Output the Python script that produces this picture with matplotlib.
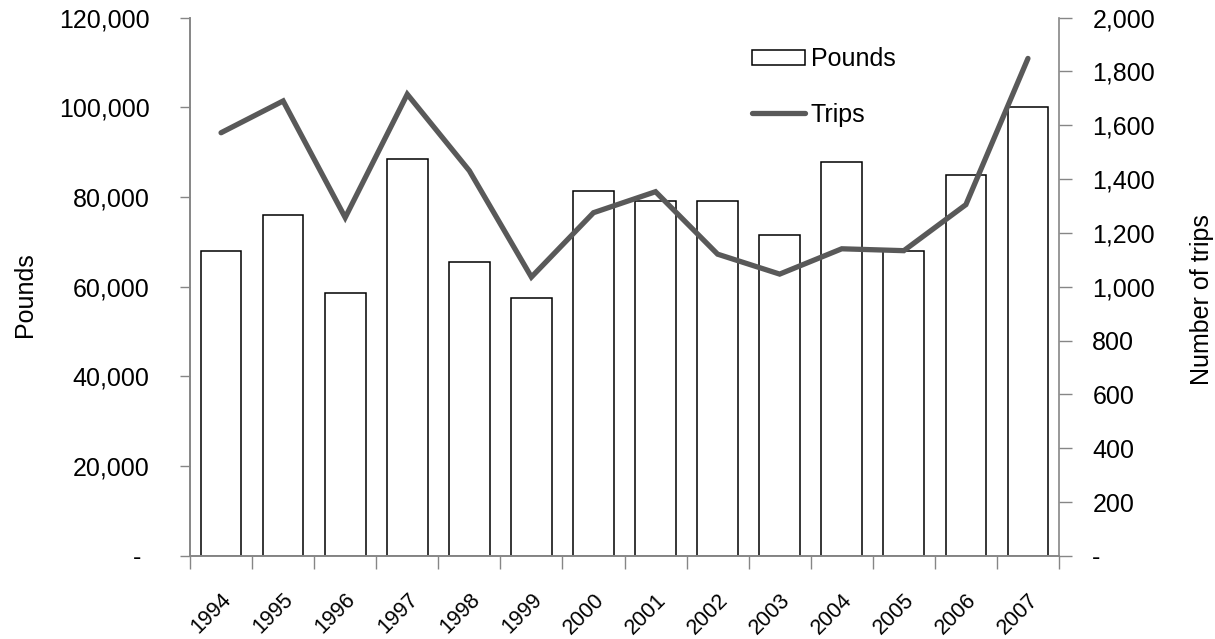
"""
Pounds landed (bars) and number of trips (line), 1994-2007.
"""

import numpy as np
import matplotlib
matplotlib.use('Agg')  # Use non-interactive backend
import matplotlib.pyplot as plt
import matplotlib.transforms as mtransforms
from matplotlib.ticker import FuncFormatter

plt.rcParams['font.family'] = ['Liberation Sans', 'DejaVu Sans']

# Data
years = ['1994', '1995', '1996', '1997', '1998', '1999', '2000',
         '2001', '2002', '2003', '2004', '2005', '2006', '2007']
pounds = [68000, 76000, 58700, 88500, 65500, 57400, 81300,
          79200, 79100, 71600, 87900, 68000, 84900, 100000]
trips = [1572, 1690, 1257, 1715, 1431, 1036, 1275,
         1353, 1121, 1047, 1141, 1134, 1305, 1848]

AXIS_GRAY = '#868686'
LINE_GRAY = '#595959'
FONT_SIZE = 18
XTICK_SIZE = 15.5


def excel_fmt(v, pos):
    """Excel accounting style: dash for zero, thousands separators."""
    if v == 0:
        return '-'
    return f'{v:,.0f}'


def main():
    fig = plt.figure(figsize=(12.15, 6.39), dpi=100)
    ax = fig.add_axes([0.1564, 0.1299, 0.7152, 0.8427])
    ax2 = ax.twinx()

    x = np.arange(len(years))
    ax.bar(x, pounds, width=0.655, color='white', edgecolor='black',
           linewidth=1.1, label='Pounds', zorder=2)
    ax2.plot(x, trips, color=LINE_GRAY, lw=3.8, solid_capstyle='round',
             solid_joinstyle='miter', label='Trips')

    ax.set_xlim(-0.5, len(years) - 0.5)
    ax.set_ylim(0, 120000)
    ax2.set_ylim(0, 2000)
    ax.set_yticks(np.arange(0, 120001, 20000))
    ax2.set_yticks(np.arange(0, 2001, 200))
    ax.yaxis.set_major_formatter(FuncFormatter(excel_fmt))
    ax2.yaxis.set_major_formatter(FuncFormatter(excel_fmt))

    # category boundaries get tick marks, labels sit at the centres
    ax.set_xticks(np.arange(len(years) + 1) - 0.5)
    ax.set_xticklabels([])
    ax.set_xticks(x, minor=True)
    ax.set_xticklabels(years, minor=True, rotation=45, ha='right', va='top',
                       rotation_mode='anchor', fontsize=XTICK_SIZE)
    ax.tick_params(axis='x', which='major', direction='out', length=9,
                   width=1, color=AXIS_GRAY)
    ax.tick_params(axis='x', which='minor', length=0, pad=24)

    ax.tick_params(axis='y', direction='out', length=7, width=1,
                   color=AXIS_GRAY, labelsize=FONT_SIZE, pad=22)
    ax2.tick_params(axis='y', direction='out', length=9, width=1,
                    color=AXIS_GRAY, labelsize=FONT_SIZE, pad=15)

    # the zero dash sits a little left of the number column
    dash_shift = mtransforms.ScaledTranslation(-8 / 100, 0, fig.dpi_scale_trans)
    lab0 = ax.yaxis.get_major_ticks()[0].label1
    lab0.set_transform(lab0.get_transform() + dash_shift)

    for a in (ax, ax2):
        a.spines['top'].set_visible(False)
        for side in ('left', 'right', 'bottom'):
            a.spines[side].set_color(AXIS_GRAY)
            a.spines[side].set_linewidth(1.2)
    ax.spines['right'].set_visible(False)

    ax.set_ylabel('Pounds', fontsize=FONT_SIZE)
    ax.yaxis.set_label_coords(-0.176, 0.485)
    ax2.set_ylabel('Number of trips', fontsize=FONT_SIZE)
    ax2.yaxis.set_label_coords(1.151, 0.477)

    h1, l1 = ax.get_legend_handles_labels()
    h2, l2 = ax2.get_legend_handles_labels()
    ax2.legend(h1 + h2, l1 + l2, loc='upper left',
               bbox_to_anchor=(0.619, 0.926), bbox_transform=fig.transFigure,
               frameon=False, fontsize=FONT_SIZE, borderpad=0,
               borderaxespad=0, handlelength=2.1, handleheight=0.56,
               handletextpad=0.25, labelspacing=1.25)

    fig.savefig('out.png', dpi=100)


if __name__ == "__main__":
    main()
